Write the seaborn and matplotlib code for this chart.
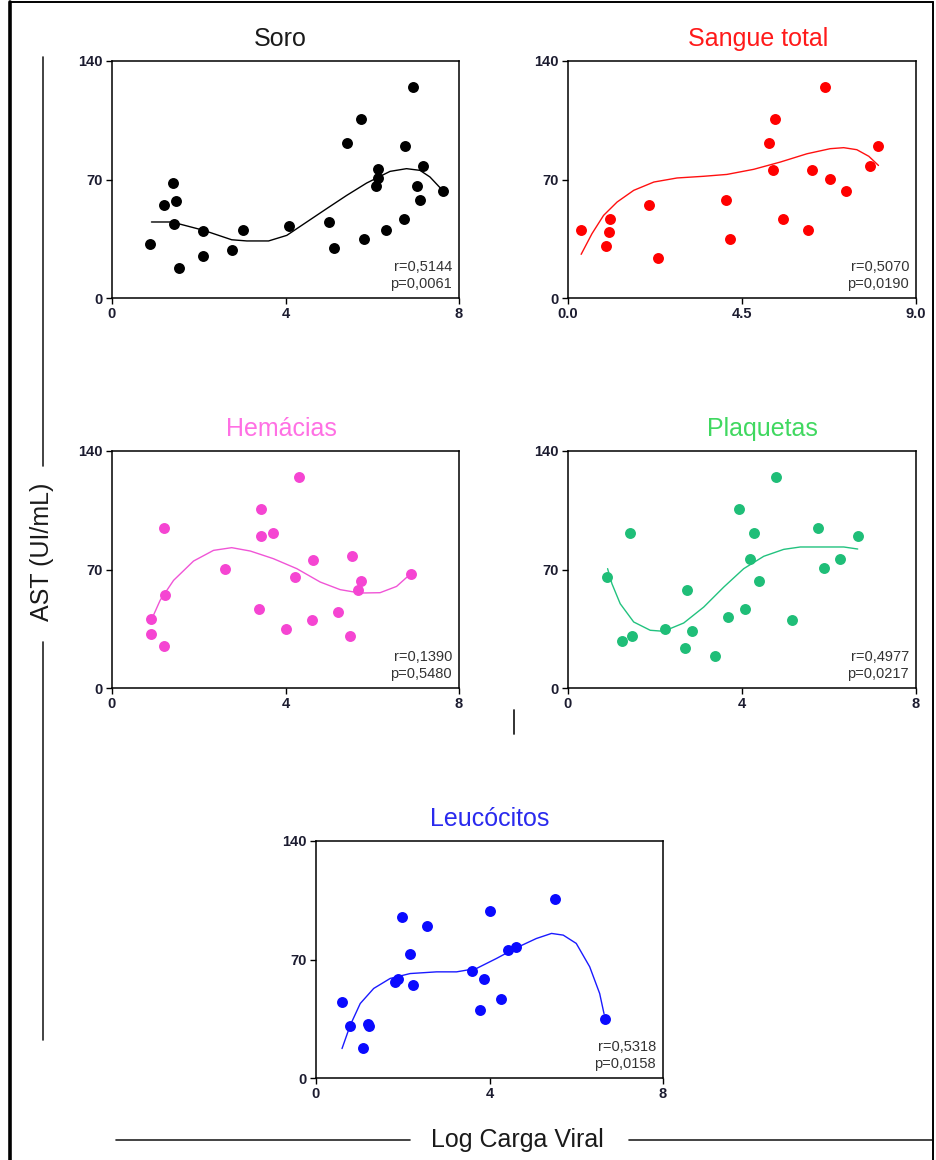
import matplotlib
matplotlib.use("Agg")
import matplotlib.pyplot as plt
import seaborn as sns
import pandas as pd
from matplotlib.lines import Line2D

sns.set_theme(style="ticks")
plt.rcParams["font.family"] = ["Liberation Sans", "DejaVu Sans"]

# ------------------------------------------------------------------
# DATA
# ------------------------------------------------------------------
# Soro
soro_x = [0.87, 1.19, 1.40, 1.48, 1.42, 1.54, 2.09, 2.09, 2.76, 3.03, 4.08, 5.01, 5.12,
          5.41, 5.75, 5.80, 6.14, 6.14, 6.08, 6.32, 6.74, 6.76, 6.95, 7.04, 7.10, 7.18, 7.62]
soro_y = [32.1, 54.9, 67.9, 57.1, 43.9, 17.9, 39.6, 25.0, 28.1, 40.0, 42.3, 44.9, 29.7,
          91.7, 105.9, 35.0, 76.0, 70.9, 66.1, 40.0, 46.9, 89.8, 124.6, 65.9, 57.7, 77.8, 63.0]
soro_fit_x = [0.91, 1.38, 2.11, 2.76, 3.11, 3.61, 4.03, 4.49, 4.95, 5.41, 5.87, 6.41,
              6.79, 7.10, 7.33, 7.62]
soro_fit_y = [44.9, 44.9, 40.0, 34.4, 33.7, 33.7, 37.0, 44.9, 52.8, 60.6, 67.9, 74.8,
              76.4, 75.4, 71.5, 63.6]

# Sangue total
sangue_x = [0.34, 0.99, 1.05, 1.08, 2.10, 2.33, 4.09, 4.18, 5.21, 5.29, 5.36, 5.56,
            6.20, 6.30, 6.64, 6.78, 7.20, 7.82, 8.03]
sangue_y = [40.0, 30.7, 39.0, 46.7, 55.1, 23.8, 58.1, 35.0, 91.7, 75.8, 105.9, 46.7,
            40.0, 75.8, 124.6, 70.5, 63.0, 77.8, 89.6]
sangue_fit_x = [0.34, 0.62, 0.92, 1.27, 1.70, 2.22, 2.82, 3.51, 4.11, 4.80, 5.49, 6.18,
                6.78, 7.13, 7.47, 7.78, 8.03]
sangue_fit_y = [25.8, 38.0, 48.8, 56.7, 63.6, 68.5, 70.9, 71.9, 73.0, 76.0, 80.3, 85.2,
                88.2, 88.8, 87.6, 83.7, 78.3]

# Hemácias
hemacias_x = [0.90, 0.91, 1.19, 1.21, 1.23, 2.61, 3.40, 3.43, 3.44, 3.72, 4.02, 4.21,
              4.32, 4.61, 4.64, 5.22, 5.49, 5.54, 5.68, 5.74, 6.89]
hemacias_y = [32.1, 40.6, 24.8, 94.7, 54.9, 70.5, 46.7, 105.5, 89.6, 91.7, 35.0, 65.6,
              124.6, 40.0, 75.8, 44.9, 30.7, 78.0, 58.1, 63.0, 67.1]
hemacias_fit_x = [0.92, 1.11, 1.42, 1.88, 2.34, 2.76, 3.19, 3.72, 4.26, 4.80, 5.26,
                  5.72, 6.18, 6.56, 6.87]
hemacias_fit_y = [40.9, 51.8, 63.6, 75.0, 81.3, 82.9, 80.9, 76.4, 70.5, 62.6, 58.1,
                  56.1, 56.3, 60.0, 67.1]

# Plaquetas
plaquetas_x = [0.90, 1.24, 1.47, 1.43, 2.22, 2.70, 2.74, 2.84, 3.39, 3.67, 3.94, 4.08,
               4.18, 4.27, 4.40, 4.79, 5.15, 5.74, 5.89, 6.25, 6.67]
plaquetas_y = [65.6, 27.8, 30.7, 91.7, 35.0, 23.8, 57.7, 33.7, 18.9, 41.9, 105.5, 46.7,
               76.0, 91.7, 63.0, 124.6, 40.0, 94.7, 70.9, 76.0, 89.6]
plaquetas_fit_x = [0.91, 1.01, 1.20, 1.51, 1.89, 2.20, 2.66, 3.12, 3.58, 4.04, 4.50,
                   4.96, 5.34, 6.34, 6.66]
plaquetas_fit_y = [70.5, 61.6, 49.8, 39.0, 34.1, 33.5, 38.4, 47.8, 59.6, 70.5, 77.8,
                   81.9, 83.3, 83.3, 82.1]

# Leucócitos
leucocitos_x = [0.60, 0.79, 1.08, 1.21, 1.23, 1.83, 1.90, 1.98, 2.17, 2.23, 2.55, 3.59,
                3.77, 3.88, 4.00, 4.26, 4.42, 4.61, 5.52, 6.66]
leucocitos_y = [45.0, 30.8, 17.9, 32.1, 30.6, 56.8, 58.2, 94.9, 73.0, 54.8, 89.7, 63.3,
                40.0, 58.2, 98.8, 46.5, 75.5, 77.5, 105.7, 34.7]
leucocitos_fit_x = [0.60, 0.79, 1.02, 1.33, 1.71, 2.17, 2.78, 3.24, 3.70, 4.16, 4.62,
                    5.08, 5.43, 5.70, 6.00, 6.31, 6.54, 6.64]
leucocitos_fit_y = [17.4, 31.2, 44.0, 52.9, 58.8, 61.7, 62.7, 62.7, 64.7, 70.6, 76.9,
                    82.4, 85.4, 84.4, 79.5, 65.7, 49.9, 38.0]

titles = ["Soro", "Sangue total", "Hemácias", "Plaquetas", "Leucócitos"]
stats = ["r=0,5144\np=0,0061", "r=0,5070\np=0,0190", "r=0,1390\np=0,5480",
         "r=0,4977\np=0,0217", "r=0,5318\np=0,0158"]
y_ticks = [0, 70, 140]
x_ticks_std = [0, 4, 8]
x_ticks_sangue = [0.0, 4.5, 9.0]
x_labels_sangue = ["0.0", "4.5", "9.0"]

# ------------------------------------------------------------------
# PANEL SETUP
# ------------------------------------------------------------------
W, H = 936, 1160

def rect(x0, y0, x1, y1):
    return [x0 / W, 1 - y1 / H, (x1 - x0) / W, (y1 - y0) / H]

panels = [
    dict(x=soro_x, y=soro_y, fx=soro_fit_x, fy=soro_fit_y, pt="black", ln="black",
         tc="#1a1a1a", box=rect(112, 61, 459, 298), tx=0.485, xmax=8,
         xt=x_ticks_std, xl=["0", "4", "8"]),
    dict(x=sangue_x, y=sangue_y, fx=sangue_fit_x, fy=sangue_fit_y, pt="#ff0000", ln="#ff1010",
         tc="#ff1a1a", box=rect(568, 61, 916, 298), tx=0.545, xmax=9,
         xt=x_ticks_sangue, xl=x_labels_sangue),
    dict(x=hemacias_x, y=hemacias_y, fx=hemacias_fit_x, fy=hemacias_fit_y, pt="#f545d2",
         ln="#f055d6", tc="#ff70e4", box=rect(112, 451, 459, 688), tx=0.487, xmax=8,
         xt=x_ticks_std, xl=["0", "4", "8"]),
    dict(x=plaquetas_x, y=plaquetas_y, fx=plaquetas_fit_x, fy=plaquetas_fit_y, pt="#1fbe78",
         ln="#22c27f", tc="#40d860", box=rect(568, 451, 916, 688), tx=0.558, xmax=8,
         xt=x_ticks_std, xl=["0", "4", "8"]),
    dict(x=leucocitos_x, y=leucocitos_y, fx=leucocitos_fit_x, fy=leucocitos_fit_y,
         pt="#0a0aff", ln="#1a1aff", tc="#2a2aee", box=rect(316, 841, 663, 1078), tx=0.5,
         xmax=8, xt=x_ticks_std, xl=["0", "4", "8"]),
]

fig = plt.figure(figsize=(W / 100, H / 100), dpi=100)
fig.patch.set_facecolor("white")

for p, title, st in zip(panels, titles, stats):
    ax = fig.add_axes(p["box"])
    pts = pd.DataFrame({"x": p["x"], "y": p["y"]})
    fit = pd.DataFrame({"x": p["fx"], "y": p["fy"]})
    sns.lineplot(data=fit, x="x", y="y", ax=ax, color=p["ln"], lw=1.0,
                 sort=False, estimator=None)
    sns.scatterplot(data=pts, x="x", y="y", ax=ax, color=p["pt"], s=62,
                    linewidth=0, zorder=3)
    ax.set_xlim(0, p["xmax"])
    ax.set_ylim(0, 140)
    ax.set_xticks(p["xt"])
    ax.set_xticklabels(p["xl"])
    ax.set_yticks(y_ticks)
    ax.set_yticklabels([str(v) for v in y_ticks])
    ax.set_xlabel("")
    ax.set_ylabel("")
    for s in ax.spines.values():
        s.set_visible(True)
        s.set_linewidth(1.1)
        s.set_color("black")
    ax.tick_params(axis="both", direction="out", length=4.5, width=1.0, color="black",
                   labelsize=10.5, labelcolor="#1c1c30")
    ax.tick_params(axis="y", pad=2.5)
    ax.tick_params(axis="x", pad=2)
    for lab in ax.get_xticklabels() + ax.get_yticklabels():
        lab.set_fontweight("bold")
    ax.set_title(title, color=p["tc"], fontsize=18, x=p["tx"], pad=11)
    ax.text(0.98, 0.03, st, transform=ax.transAxes, ha="right", va="bottom",
            fontsize=10.5, color="#333333", linespacing=1.25)

# ------------------------------------------------------------------
# SHARED AXIS LABELS, DECORATION LINES, FRAME
# ------------------------------------------------------------------
def fline(xs, ys, lw=1.2):
    fig.add_artist(Line2D([x / W for x in xs], [1 - y / H for y in ys],
                          transform=fig.transFigure, color="#222222", lw=lw))

fline([43, 43], [57, 466])
fline([43, 43], [642, 1040])
fig.text(42 / W, 1 - 552 / H, "AST (UI/mL)", rotation=90, ha="center", va="center",
         fontsize=18, color="#1a1a1a")

fline([116, 410], [1140, 1140])
fline([629, 932], [1140, 1140])
fig.text(517 / W, 1 - 1140 / H, "Log Carga Viral", ha="center", va="center",
         fontsize=18, color="#1a1a1a")

fline([514, 514], [710, 734], lw=1.3)

# frame
fig.add_artist(Line2D([10 / W, 10 / W], [0, 1 - 2 / H], transform=fig.transFigure,
                      color="black", lw=2.6))
fig.add_artist(Line2D([10 / W, 933 / W], [1 - 2 / H, 1 - 2 / H], transform=fig.transFigure,
                      color="black", lw=1.4))
fig.add_artist(Line2D([933 / W, 933 / W], [0, 1 - 2 / H], transform=fig.transFigure,
                      color="black", lw=1.4))

fig.savefig("out.png", dpi=100, facecolor="white")
